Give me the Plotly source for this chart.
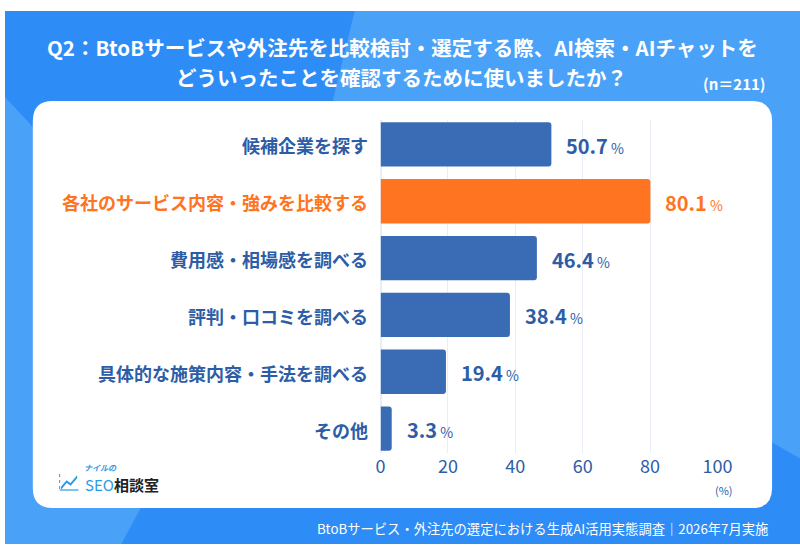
import plotly.graph_objects as go

categories = ["候補企業を探す", "各社のサービス内容・強みを比較する", "費用感・相場感を調べる",
              "評判・口コミを調べる", "具体的な施策内容・手法を調べる", "その他"]
values = [50.7, 80.1, 46.4, 38.4, 19.4, 3.3]
highlight = [False, True, False, False, False, False]
x_ticks = [0, 20, 40, 60, 80, 100]
title_lines = ["Q2：BtoBサービスや外注先を比較検討・選定する際、AI検索・AIチャットを",
               "どういったことを確認するために使いましたか？"]
n_label = "(n＝211)"
footer = "BtoBサービス・外注先の選定における生成AI活用実態調査｜2026年7月実施"

W, H = 800, 556
WX = 785  # effective horizontal extent observed in the rendered page
BLUE_BG = "#2e8cf6"
BLUE_LIGHT = "#4aa2f8"
BAR_BLUE = "#3a6cb5"
ORANGE = "#ff7420"
TEXT_BLUE = "#2d5da6"
LOGO_BLUE = "#2a9be8"
FONT = "Noto Sans CJK JP"

def px(x):
    return x / WX

def py(y):
    return 1 - y / H

def poly(points):
    return "M " + " L ".join(f"{px(x)},{py(y)}" for x, y in points) + " Z"

def rounded_rect(x0, y0, x1, y1, r):
    rx, ry = r / WX, r / H
    X0, X1 = px(x0), px(x1)
    Y0, Y1 = py(y0), py(y1)
    return (f"M {X0+rx},{Y0} L {X1-rx},{Y0} Q {X1},{Y0} {X1},{Y0-ry} "
            f"L {X1},{Y1+ry} Q {X1},{Y1} {X1-rx},{Y1} "
            f"L {X0+rx},{Y1} Q {X0},{Y1} {X0},{Y1+ry} "
            f"L {X0},{Y0-ry} Q {X0},{Y0} {X0+rx},{Y0} Z")

colors = [ORANGE if h else BAR_BLUE for h in highlight]
ypos = list(range(len(categories)))

fig = go.Figure(go.Bar(
    x=values, y=ypos, orientation="h", marker=dict(color=colors, line=dict(width=0)),
    width=0.78, hoverinfo="skip",
))

shapes = [
    dict(type="rect", xref="paper", yref="paper", x0=0, x1=1.05, y0=py(544), y1=py(11),
         fillcolor=BLUE_BG, line=dict(width=0), layer="below"),
    dict(type="path", xref="paper", yref="paper",
         path=poly([(352, 11), (820, 11), (820, 470), (773, 443), (600, 300), (330, 100)]),
         fillcolor=BLUE_LIGHT, line=dict(width=0), layer="below"),
    dict(type="path", xref="paper", yref="paper",
         path=poly([(0, 97), (40, 140), (140, 300), (136, 509), (117, 544), (0, 544)]),
         fillcolor=BLUE_LIGHT, line=dict(width=0), layer="below"),
    dict(type="path", xref="paper", yref="paper",
         path=rounded_rect(28, 101, 772, 508, 20),
         fillcolor="white", line=dict(width=0), layer="below"),
]

annotations = []
for i, (c, v, h) in enumerate(zip(categories, values, highlight)):
    col = ORANGE if h else TEXT_BLUE
    annotations.append(dict(x=0, y=i, xref="x", yref="y", text=f"<b>{c}</b>", showarrow=False,
                            xanchor="right", xshift=-11, yshift=-1,
                            font=dict(family=FONT, size=18, color=col)))
    annotations.append(dict(x=v, y=i, xref="x", yref="y",
                            text=f"<b>{v:.1f}</b><span style='font-size:14px'> %</span>",
                            showarrow=False, xanchor="left", xshift=13, yshift=-1,
                            font=dict(family=FONT, size=20, color=col)))

annotations += [
    dict(x=px(400), y=py(47), xref="paper", yref="paper", text=f"<b>{title_lines[0]}</b>",
         showarrow=False, xanchor="center", yanchor="middle",
         font=dict(family=FONT, size=20.5, color="white")),
    dict(x=px(399), y=py(77), xref="paper", yref="paper", text=f"<b>{title_lines[1]}</b>",
         showarrow=False, xanchor="center", yanchor="middle",
         font=dict(family=FONT, size=20.5, color="white")),
    dict(x=px(768), y=py(84), xref="paper", yref="paper", text=f"<b>{n_label}</b>",
         showarrow=False, xanchor="right", yanchor="middle",
         font=dict(family=FONT, size=15, color="white")),
    dict(x=px(770), y=py(528), xref="paper", yref="paper", text=footer,
         showarrow=False, xanchor="right", yanchor="middle",
         font=dict(family=FONT, size=13.3, color="white")),
    dict(x=px(724), y=py(490), xref="paper", yref="paper", text="(%)",
         showarrow=False, xanchor="center", yanchor="middle",
         font=dict(family=FONT, size=11, color=TEXT_BLUE)),
    dict(x=px(77), y=py(467), xref="paper", yref="paper", text="<b><i>ナイルの</i></b>",
         showarrow=False, xanchor="left", yanchor="middle",
         font=dict(family=FONT, size=8, color=LOGO_BLUE)),
    dict(x=px(79), y=py(484), xref="paper", yref="paper",
         text="<span style='color:#2a9be8'>SEO</span><b>相談室</b>",
         showarrow=False, xanchor="left", yanchor="middle",
         font=dict(family=FONT, size=15, color="#222222")),
]
shapes += [
    dict(type="path", xref="paper", yref="paper",
         path=poly([(57, 487), (62, 481), (66, 484), (72, 477), (72, 478), (66, 485), (62, 482), (57, 488)]),
         fillcolor=LOGO_BLUE, line=dict(color=LOGO_BLUE, width=1.2)),
    dict(type="line", xref="paper", yref="paper", x0=px(55), x1=px(74), y0=py(490), y1=py(490),
         line=dict(color=LOGO_BLUE, width=1.2)),
    dict(type="line", xref="paper", yref="paper", x0=px(55), x1=px(55), y0=py(474), y1=py(490),
         line=dict(color=LOGO_BLUE, width=1, dash="dot")),
]

fig.update_layout(
    width=W, height=H, autosize=False, margin=dict(l=0, r=0, t=0, b=0),
    paper_bgcolor="white", plot_bgcolor="rgba(0,0,0,0)",
    showlegend=False, barcornerradius=3,
    shapes=shapes, annotations=annotations,
    xaxis=dict(domain=[px(378), px(717)], range=[0, 100], tickvals=x_ticks,
               showgrid=True, gridcolor="#e9eef6", gridwidth=1,
               zeroline=True, zerolinecolor="#e9eef6", showline=False, ticks="",
               tickfont=dict(family=FONT, size=18, color=TEXT_BLUE), ticklabelstandoff=1,
               fixedrange=True),
    yaxis=dict(domain=[py(453), py(120)], range=[len(categories) - 0.57, -0.43],
               showticklabels=False, showgrid=False, zeroline=False, ticks="", fixedrange=True),
)

fig.write_html(
    "out.html",
    config={"displayModeBar": False, "responsive": False},
    post_script=(
        "document.documentElement.style.overflow='hidden';"
        "document.body.style.margin='0';document.body.style.padding='0';"
        "document.body.style.overflow='hidden';"
    ),
)
